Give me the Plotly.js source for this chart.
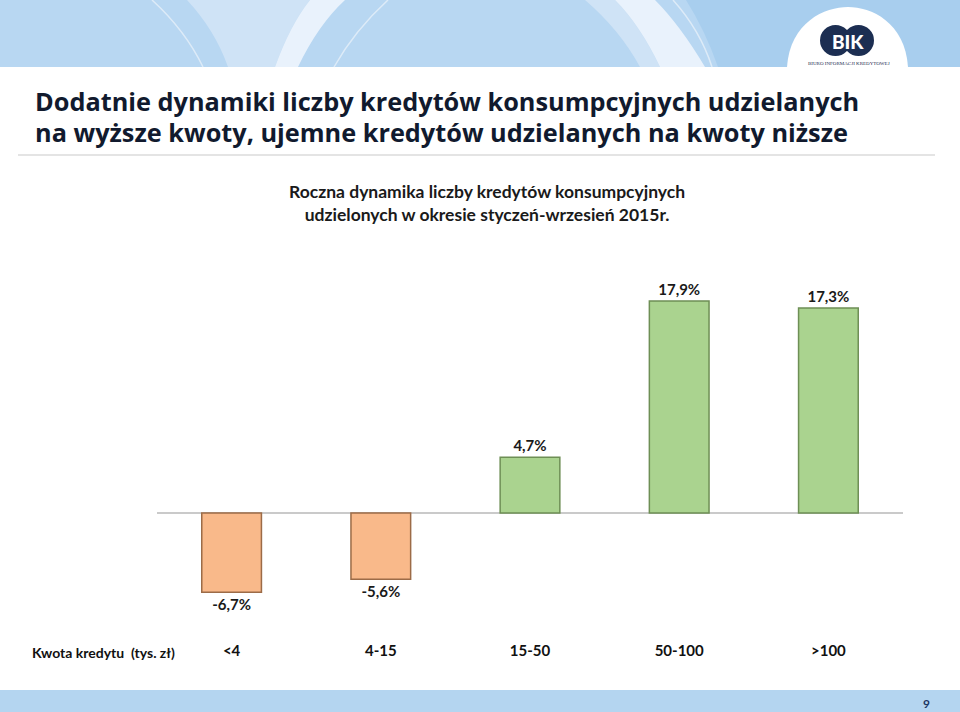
<!DOCTYPE html>
<html>
<head>
<meta charset="utf-8">
<script src="https://cdn.plot.ly/plotly-3.0.1.min.js"></script>
<style>html,body{margin:0;padding:0;background:#fff;}#chart{width:960px;height:712px;}</style>
</head>
<body>
<div id="chart"></div>
<script>
// ---- data ----
const categories = ["<4", "4-15", "15-50", "50-100", ">100"];
const dynamics = [-6.7, -5.6, 4.7, 17.9, 17.3];
const axisLabel = "Kwota kredytu  (tys. zł)";
const titleLines = ["Dodatnie dynamiki liczby kredytów konsumpcyjnych udzielanych", "na wyższe kwoty, ujemne kredytów udzielanych na kwoty niższe"];
const subtitleLines = ["Roczna dynamika liczby kredytów konsumpcyjnych", "udzielonych w okresie styczeń-wrzesień 2015r."];
const pageNumber = "9";

// ---- layout geometry ----
const W = 960, H = 712;
const M = {l: 157, r: 57, t: 276, b: 72};
const PW = W - M.l - M.r, PH = H - M.t - M.b;
const X = x => (x - M.l) / PW;
const Y = y => (H - M.b - y) / PH;
const FONT = "Lato, 'Open Sans', 'DejaVu Sans', sans-serif";
const TFONT = "'Open Sans', Lato, sans-serif";

const posColor = "#AAD38F", negColor = "#F9B98A";
const posLine = "#6E8F55", negLine = "#9C6B47";

const trace = {
  type: "bar",
  x: categories,
  y: dynamics,
  marker: {
    color: dynamics.map(v => v < 0 ? negColor : posColor),
    line: {color: dynamics.map(v => v < 0 ? negLine : posLine), width: 1.5}
  },
  text: dynamics.map(v => v.toFixed(1).replace(".", ",") + "%"),
  textposition: "outside",
  cliponaxis: false,
  textfont: {family: FONT, size: 15, color: "#1a1a1a", weight: 700},
  hoverinfo: "x+y"
};

const shapes = [
  // header band
  {type: "rect", xref: "paper", yref: "paper", x0: X(0), x1: X(960), y0: Y(67), y1: Y(0), fillcolor: "#B8D7F2", line: {width: 0}, layer: "below"},
  {type: "path", xref: "paper", yref: "paper", layer: "below", line: {width: 0}, fillcolor: "#CFE3F6",
   path: `M ${X(187)},${Y(0)} Q ${X(215)},${Y(30)} ${X(228)},${Y(67)} L ${X(275)},${Y(67)} Q ${X(290)},${Y(25)} ${X(310)},${Y(0)} Z`},
  {type: "path", xref: "paper", yref: "paper", layer: "below", line: {width: 0}, fillcolor: "#E9F2FC",
   path: `M ${X(310)},${Y(0)} Q ${X(290)},${Y(25)} ${X(275)},${Y(67)} L ${X(298)},${Y(67)} Q ${X(318)},${Y(25)} ${X(345)},${Y(0)} Z`},
  {type: "path", xref: "paper", yref: "paper", layer: "below", line: {width: 1.5, color: "#DDEBF8"},
   path: `M ${X(152)},${Y(0)} Q ${X(185)},${Y(30)} ${X(203)},${Y(67)}`},
  {type: "path", xref: "paper", yref: "paper", layer: "below", line: {width: 1.5, color: "#DDEBF8"},
   path: `M ${X(388)},${Y(0)} Q ${X(355)},${Y(30)} ${X(334)},${Y(67)}`},
  {type: "path", xref: "paper", yref: "paper", layer: "below", line: {width: 0}, fillcolor: "#CFE3F6",
   path: `M ${X(585)},${Y(0)} Q ${X(620)},${Y(30)} ${X(640)},${Y(67)} L ${X(660)},${Y(67)} Q ${X(640)},${Y(25)} ${X(615)},${Y(0)} Z`},
  {type: "path", xref: "paper", yref: "paper", layer: "below", line: {width: 0}, fillcolor: "#E9F2FC",
   path: `M ${X(615)},${Y(0)} Q ${X(640)},${Y(25)} ${X(660)},${Y(67)} L ${X(705)},${Y(67)} Q ${X(680)},${Y(25)} ${X(655)},${Y(0)} Z`},
  {type: "path", xref: "paper", yref: "paper", layer: "below", line: {width: 0}, fillcolor: "#A8CEEE",
   path: `M ${X(686)},${Y(0)} Q ${X(705)},${Y(30)} ${X(718)},${Y(67)} L ${X(960)},${Y(67)} L ${X(960)},${Y(0)} Z`},
  {type: "path", xref: "paper", yref: "paper", layer: "below", line: {width: 1.5, color: "#DDEBF8"},
   path: `M ${X(673)},${Y(0)} Q ${X(700)},${Y(30)} ${X(712)},${Y(67)}`},
  // logo dome
  {type: "path", xref: "paper", yref: "paper", layer: "below", line: {width: 0}, fillcolor: "#FFFFFF",
   path: `M ${X(787)},${Y(67)} C ${X(790)},${Y(22)} ${X(825)},${Y(7)} ${X(848)},${Y(7)} C ${X(871)},${Y(7)} ${X(905)},${Y(22)} ${X(908)},${Y(67)} Z`},
  {type: "circle", xref: "paper", yref: "paper", layer: "below", line: {width: 0}, fillcolor: "#1C2E52",
   x0: X(820), x1: X(851), y0: Y(56), y1: Y(25)},
  {type: "circle", xref: "paper", yref: "paper", layer: "below", line: {width: 0}, fillcolor: "#1C2E52",
   x0: X(843), x1: X(874), y0: Y(56), y1: Y(25)},
  // separator line under title
  {type: "line", xref: "paper", yref: "paper", x0: X(18), x1: X(935), y0: Y(155), y1: Y(155), line: {color: "#E4E4E4", width: 2}},
  // footer band
  {type: "rect", xref: "paper", yref: "paper", x0: X(0), x1: X(960), y0: Y(712), y1: Y(690), fillcolor: "#B4D5F0", line: {width: 0}, layer: "below"}
];

const annotations = [
  {xref: "paper", yref: "paper", x: X(33), y: Y(101), xanchor: "left", yanchor: "middle", align: "left", showarrow: false,
   text: titleLines[0], font: {family: TFONT, size: 25.3, color: "#111a2e", weight: 700}},
  {xref: "paper", yref: "paper", x: X(33), y: Y(132), xanchor: "left", yanchor: "middle", align: "left", showarrow: false,
   text: titleLines[1], font: {family: TFONT, size: 25.3, color: "#111a2e", weight: 700}},
  {xref: "paper", yref: "paper", x: X(487), y: Y(203), xanchor: "center", yanchor: "middle", align: "center", showarrow: false,
   text: subtitleLines.join("<br>"), font: {family: FONT, size: 17.5, color: "#1a1a1a", weight: 700}},
  {xref: "paper", yref: "paper", x: X(30), y: Y(652), xanchor: "left", yanchor: "middle", showarrow: false,
   text: axisLabel, font: {family: FONT, size: 14, color: "#111", weight: 700}},
  {xref: "paper", yref: "paper", x: X(932), y: Y(703), xanchor: "right", yanchor: "middle", showarrow: false,
   text: pageNumber, font: {family: FONT, size: 12, color: "#1F3864", weight: 700}},
  {xref: "paper", yref: "paper", x: X(848), y: Y(41), xanchor: "center", yanchor: "middle", showarrow: false,
   text: "BIK", font: {family: FONT, size: 19, color: "#FFFFFF", weight: 900}},
  {xref: "paper", yref: "paper", x: X(849), y: Y(63), xanchor: "center", yanchor: "middle", showarrow: false,
   text: "BIURO INFORMACJI KREDYTOWEJ", font: {family: "'Liberation Serif', serif", size: 5, color: "#1C2E52"}}
];

const layout = {
  width: W, height: H,
  margin: M,
  paper_bgcolor: "#FFFFFF", plot_bgcolor: "rgba(0,0,0,0)",
  showlegend: false,
  bargap: 0.6,
  xaxis: {type: "category", showline: false, ticks: "", showgrid: false, zeroline: false,
          tickfont: {family: FONT, size: 15, color: "#111", weight: 700}, fixedrange: true},
  yaxis: {range: [-10.72, 20], showticklabels: false, showgrid: false, ticks: "", showline: false,
          zeroline: true, zerolinecolor: "#CACACA", zerolinewidth: 2, fixedrange: true},
  shapes: shapes,
  annotations: annotations
};

Plotly.newPlot("chart", [trace], layout, {displayModeBar: false, staticPlot: true});
</script>
</body>
</html>
